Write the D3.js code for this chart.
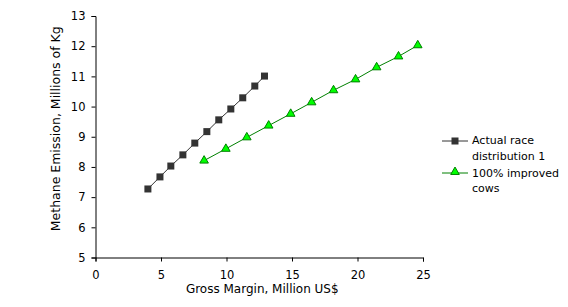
<!DOCTYPE html>
<html>
<head>
<meta charset="utf-8">
<script src="https://cdn.jsdelivr.net/npm/d3@7"></script>
<style>
  body { margin: 0; background: #fff; }
  text { font-family: "DejaVu Sans", Arial, sans-serif; font-size: 11px; fill: #000; }
</style>
</head>
<body>
<div id="chart"></div>
<script>
// series
var actualX = [4.0, 4.92, 5.75, 6.67, 7.58, 8.5, 9.41, 10.33, 11.24, 12.16, 12.9];
var actualY = [7.27, 7.67, 8.03, 8.40, 8.79, 9.17, 9.56, 9.92, 10.29, 10.68, 11.01];
var improvedX = [8.29, 9.95, 11.55, 13.22, 14.9, 16.5, 18.17, 19.85, 21.46, 23.13, 24.6];
var improvedY = [8.21, 8.60, 8.98, 9.37, 9.76, 10.14, 10.54, 10.90, 11.30, 11.66, 12.03];
var xTicks = [0, 5, 10, 15, 20, 25];
var yTicks = [5, 6, 7, 8, 9, 10, 11, 12, 13];

var margin = {top: 16, right: 145, bottom: 49.5, left: 95.5},
    width = 568 - margin.left - margin.right,
    height = 307 - margin.top - margin.bottom;

var svg = d3.select("#chart")
  .append("svg")
    .attr("width", 568)
    .attr("height", 307)
  .append("g")
    .attr("transform", "translate(" + margin.left + "," + margin.top + ")");

var x = d3.scaleLinear().domain([0, 25]).range([0, width]);
var y = d3.scaleLinear().domain([5, 13]).range([height, 0]);

// axes
var xAxis = svg.append("g")
  .attr("transform", "translate(0," + height + ")")
  .call(d3.axisBottom(x).tickValues(xTicks).tickSize(4).tickPadding(9));
var yAxis = svg.append("g")
  .call(d3.axisLeft(y).tickValues(yTicks).tickSize(4).tickPadding(6));

[xAxis, yAxis].forEach(function(a) {
  a.select(".domain").attr("stroke", "#000");
  a.selectAll(".tick line").attr("stroke", "#000");
  a.selectAll("text")
    .style("font-family", "'DejaVu Sans', Arial, sans-serif")
    .style("font-size", "11.5px");
});

var actual = actualX.map(function(v, i) { return {x: v, y: actualY[i]}; });
var improved = improvedX.map(function(v, i) { return {x: v, y: improvedY[i]}; });

var line = d3.line()
  .x(function(d) { return x(d.x); })
  .y(function(d) { return y(d.y); });

svg.append("path")
  .datum(actual)
  .attr("fill", "none")
  .attr("stroke", "#333333")
  .attr("stroke-width", 1)
  .attr("d", line);

svg.append("path")
  .datum(improved)
  .attr("fill", "none")
  .attr("stroke", "#008000")
  .attr("stroke-width", 1)
  .attr("d", line);

// markers
svg.selectAll(".sq")
  .data(actual)
  .enter()
  .append("rect")
  .attr("x", function(d) { return x(d.x) - 3.5; })
  .attr("y", function(d) { return y(d.y) - 3.5; })
  .attr("width", 7)
  .attr("height", 7)
  .attr("fill", "#333333");

var tri = d3.symbol().type(d3.symbolTriangle).size(32);
svg.selectAll(".tri")
  .data(improved)
  .enter()
  .append("path")
  .attr("d", tri)
  .attr("transform", function(d) { return "translate(" + x(d.x) + "," + y(d.y) + ")"; })
  .attr("fill", "#00ff00")
  .attr("stroke", "#008000")
  .attr("stroke-width", 1);

// axis titles
svg.append("text")
  .attr("text-anchor", "middle")
  .attr("x", width / 2 + 3)
  .attr("y", height + 35.5)
  .style("font-size", "12px")
  .text("Gross Margin, Million US$");

svg.append("text")
  .attr("text-anchor", "middle")
  .attr("transform", "rotate(-90)")
  .attr("x", -height / 2 + 8)
  .attr("y", -35.5)
  .style("font-size", "12.5px")
  .text("Methane Emission, Millions of Kg");

// legend
var lx = 442 - margin.left, ly = 141 - margin.top;

svg.append("line")
  .attr("x1", lx).attr("x2", lx + 26)
  .attr("y1", ly).attr("y2", ly)
  .attr("stroke", "#333333");
svg.append("rect")
  .attr("x", lx + 9.5).attr("y", ly - 3.5)
  .attr("width", 7).attr("height", 7)
  .attr("fill", "#333333");
svg.append("text")
  .attr("x", lx + 30).attr("y", ly + 3)
  .text("Actual race");
svg.append("text")
  .attr("x", lx + 30).attr("y", ly + 18.5)
  .text("distribution 1");

svg.append("line")
  .attr("x1", lx).attr("x2", lx + 26)
  .attr("y1", ly + 32).attr("y2", ly + 32)
  .attr("stroke", "#008000");
svg.append("path")
  .attr("d", tri)
  .attr("transform", "translate(" + (lx + 13) + "," + (ly + 31) + ")")
  .attr("fill", "#00ff00")
  .attr("stroke", "#008000");
svg.append("text")
  .attr("x", lx + 30).attr("y", ly + 35.5)
  .text("100% improved");
svg.append("text")
  .attr("x", lx + 30).attr("y", ly + 51)
  .text("cows");
</script>
</body>
</html>
